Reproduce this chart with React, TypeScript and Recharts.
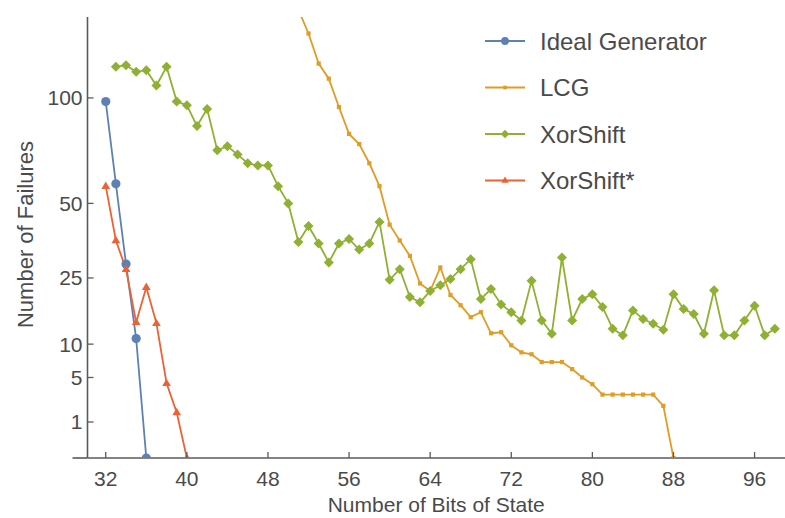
import React from 'react';
import { LineChart, Line, XAxis, YAxis, Legend, ReferenceLine, Label } from 'recharts';

// ---------- data ----------
const bitTicks = [32, 40, 48, 56, 64, 72, 80, 88, 96];
const failureTicks = [1, 5, 10, 25, 50, 100];

const idealBits = [32, 33, 34, 35, 36];
const idealFailures = [98, 58, 29, 11, 0];

const lcgBits = [51, 52, 53, 54, 55, 56, 57, 58, 59, 60, 61, 62, 63, 64, 65, 66, 67, 68, 69, 70,
  71, 72, 73, 74, 75, 76, 77, 78, 79, 80, 81, 82, 83, 84, 85, 86, 87, 88];
const lcgFailures = [155, 139, 120, 111, 95, 81, 76, 67, 57, 42, 36.5, 31.5, 23.5, 21.5, 28, 20.5, 18, 15.3, 16.4, 12,
  12.2, 9.8, 8.6, 8.3, 7.1, 7.1, 7.1, 6.1, 5, 4.2, 3.1, 3.1, 3.1, 3.1, 3.1, 3.1, 2.1, 0];

const xorshiftBits = [33, 34, 35, 36, 37, 38, 39, 40, 41, 42, 43, 44, 45, 46, 47, 48, 49, 50, 51, 52,
  53, 54, 55, 56, 57, 58, 59, 60, 61, 62, 63, 64, 65, 66, 67, 68, 69, 70, 71, 72,
  73, 74, 75, 76, 77, 78, 79, 80, 81, 82, 83, 84, 85, 86, 87, 88, 89, 90, 91, 92,
  93, 94, 95, 96, 97, 98];
const xorshiftFailures = [118, 119, 115, 116, 107, 118, 98, 96, 85, 94, 73, 75, 71, 67, 66, 66, 57, 50, 36, 41.5,
  35.5, 29.5, 35.5, 37, 33.5, 35.5, 43, 24.5, 27.5, 20, 18.7, 21.5, 23, 24.7, 27.5, 30.5, 19.5, 22, 18.2, 16.4,
  14.6, 24.2, 14.6, 11.9, 31, 14.6, 19.5, 20.7, 17.6, 12.9, 11.6, 16.8, 14.9, 13.9, 12.7, 20.7, 17.1, 16, 11.9, 21.7,
  11.6, 11.6, 14.6, 17.9, 11.6, 12.9];

const xorshiftStarBits = [32, 33, 34, 35, 36, 37, 38, 39, 40];
const xorshiftStarFailures = [57, 36.5, 27.5, 14.2, 22.5, 14, 4.3, 1.6, 0];

const seriesNames = ['Ideal Generator', 'LCG', 'XorShift', 'XorShift*'];

// ---------- styling ----------
const FONT = '"Liberation Sans", Arial, Helvetica, sans-serif';
const COLORS = ['#5E81B5', '#E19C24', '#8FB032', '#EB6235'];
const SHAPES = ['circle', 'square', 'diamond', 'triangle'];
const AXIS_COLOR = '#5a5a5a';
const TEXT_COLOR = '#4a4a4a';

const zip = (xs: number[], ys: number[]) => xs.map((b, i) => ({ bits: b, failures: ys[i] }));

const seriesData = [
  zip(idealBits, idealFailures),
  zip(lcgBits, lcgFailures),
  zip(xorshiftBits, xorshiftFailures),
  zip(xorshiftStarBits, xorshiftStarFailures),
];

function Marker({ cx, cy, shape, color, scale = 1 }: any) {
  if (cx == null || cy == null) return null;
  if (shape === 'circle') {
    const r = 4.6 * scale;
    return <circle cx={cx} cy={cy} r={r} fill={color} />;
  }
  if (shape === 'square') {
    const s = 4.2 * scale;
    return <rect x={cx - s / 2} y={cy - s / 2} width={s} height={s} fill={color} />;
  }
  if (shape === 'diamond') {
    const d = 5 * scale;
    return <polygon points={`${cx},${cy - d} ${cx + d},${cy} ${cx},${cy + d} ${cx - d},${cy}`} fill={color} />;
  }
  const t = 4.6 * scale;
  return (
    <polygon
      points={`${cx},${cy - t} ${cx + t * 0.95},${cy + t * 0.6} ${cx - t * 0.95},${cy + t * 0.6}`}
      fill={color}
    />
  );
}

const Y_TICK_GAP = 5;
const X_TICK_GAP = 20;
const TICK_LEN = 6;

function YTick(props: any) {
  const { x, y, payload } = props;
  const axisX = x + Y_TICK_GAP;
  return (
    <g>
      <line x1={axisX} y1={y} x2={axisX + TICK_LEN} y2={y} stroke={AXIS_COLOR} strokeWidth={1.3} />
      <text x={x} y={y} textAnchor="end" dominantBaseline="central" fontSize={21} fontFamily={FONT} fill={TEXT_COLOR}>
        {payload.value}
      </text>
    </g>
  );
}

function XTick(props: any) {
  const { x, y, payload } = props;
  const axisY = y - X_TICK_GAP;
  return (
    <g>
      <line x1={x} y1={axisY} x2={x} y2={axisY - TICK_LEN} stroke={AXIS_COLOR} strokeWidth={1.3} />
      <text x={x} y={y} textAnchor="middle" dominantBaseline="central" fontSize={21} fontFamily={FONT} fill={TEXT_COLOR}>
        {payload.value}
      </text>
    </g>
  );
}

function LegendBox() {
  const rowY = [41, 87.5, 134, 180.5];
  return (
    <svg width={305} height={205} style={{ display: 'block', overflow: 'visible' }}>
      {seriesNames.map((name, i) => (
        <g key={name}>
          <line x1={5} y1={rowY[i]} x2={45} y2={rowY[i]} stroke={COLORS[i]} strokeWidth={1.8} />
          <Marker cx={25} cy={rowY[i]} shape={SHAPES[i]} color={COLORS[i]} scale={0.85} />
          <text x={60} y={rowY[i]} dominantBaseline="central" fontSize={24} fontFamily={FONT} fill={TEXT_COLOR}>
            {name}
          </text>
        </g>
      ))}
    </svg>
  );
}

export default function App() {
  return (
    <div style={{ position: 'absolute', left: 0, top: 0, width: 785, height: 518, background: '#fff' }}>
      <LineChart width={785} height={518} margin={{ top: 17, right: 0, bottom: 0, left: 27.5 }}>
        <XAxis
          type="number"
          dataKey="bits"
          domain={[30.2, 99]}
          allowDataOverflow
          ticks={bitTicks}
          interval={0}
          height={60}
          tickSize={0}
          tickMargin={X_TICK_GAP}
          tickLine={false}
          tick={<XTick />}
          axisLine={{ stroke: AXIS_COLOR, strokeWidth: 1.6 }}
        >
          <Label
            content={(p: any) => {
              const vb = p.viewBox;
              return (
                <text
                  x={vb.x + vb.width / 2}
                  y={vb.y + 46}
                  textAnchor="middle"
                  dominantBaseline="central"
                  fontSize={21}
                  fontFamily={FONT}
                  fill={TEXT_COLOR}
                >
                  Number of Bits of State
                </text>
              );
            }}
          />
        </XAxis>
        <YAxis
          type="number"
          scale="sqrt"
          domain={[0, 150]}
          allowDataOverflow
          ticks={failureTicks}
          interval={0}
          width={60}
          tickSize={0}
          tickMargin={Y_TICK_GAP}
          tickLine={false}
          tick={<YTick />}
          axisLine={{ stroke: AXIS_COLOR, strokeWidth: 1.6 }}
        >
          <Label
            content={(p: any) => {
              const vb = p.viewBox;
              const cx = vb.x - 2.5;
              const cy = vb.y + vb.height / 2 - 3;
              return (
                <text
                  x={cx}
                  y={cy}
                  transform={`rotate(-90, ${cx}, ${cy})`}
                  textAnchor="middle"
                  dominantBaseline="central"
                  fontSize={22}
                  fontFamily={FONT}
                  fill={TEXT_COLOR}
                >
                  Number of Failures
                </text>
              );
            }}
          />
        </YAxis>
        <ReferenceLine
          segment={[{ x: 28.72, y: 0 }, { x: 30.2, y: 0 }]}
          stroke={AXIS_COLOR}
          strokeWidth={1.6}
          ifOverflow="visible"
        />
        {seriesNames.map((name, i) => (
          <Line
            key={name}
            name={name}
            data={seriesData[i]}
            dataKey="failures"
            type="linear"
            stroke={COLORS[i]}
            strokeWidth={1.8}
            isAnimationActive={false}
            dot={(p: any) => (
              <Marker key={`${name}-${p.index}`} cx={p.cx} cy={p.cy} shape={SHAPES[i]} color={COLORS[i]} />
            )}
            activeDot={false}
          />
        ))}
        <Legend
          layout="vertical"
          align="center"
          verticalAlign="middle"
          wrapperStyle={{ left: 480, top: 0, width: 305, height: 205 }}
          content={() => <LegendBox />}
        />
      </LineChart>
    </div>
  );
}
